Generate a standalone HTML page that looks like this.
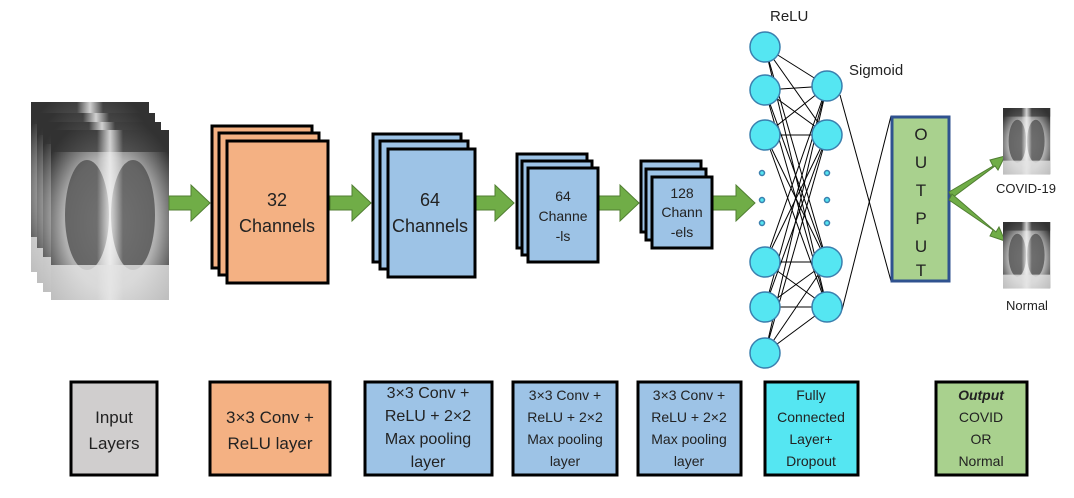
<!DOCTYPE html>
<html><head><style>
body{margin:0;background:#fff;width:1074px;height:493px;overflow:hidden}
text{font-family:"Liberation Sans",sans-serif;fill:#222}
</style></head><body>
<svg width="1074" height="493" xmlns="http://www.w3.org/2000/svg">
<defs>
<radialGradient id="lung" cx="50%" cy="55%" r="65%">
<stop offset="0" stop-color="#e0e0e0"/><stop offset="0.6" stop-color="#b0b0b0"/><stop offset="1" stop-color="#303030"/>
</radialGradient>
<linearGradient id="spine" x1="0" x2="1"><stop offset="0" stop-color="#fff" stop-opacity="0"/><stop offset="0.5" stop-color="#f4f4f4" stop-opacity="0.8"/><stop offset="1" stop-color="#fff" stop-opacity="0"/></linearGradient>
<g id="xr">
<rect x="0" y="0" width="118" height="170" fill="url(#lung)"/>
<rect x="0" y="0" width="118" height="22" fill="#333" opacity="0.7"/>
<ellipse cx="36" cy="85" rx="22" ry="55" fill="#444" opacity="0.7"/>
<ellipse cx="82" cy="85" rx="22" ry="55" fill="#444" opacity="0.7"/>
<rect x="46" y="0" width="26" height="170" fill="url(#spine)"/>
<rect x="0" y="135" width="118" height="35" fill="#e4e4e4" opacity="0.8"/>
</g>
</defs>
<use href="#xr" x="31" y="102"/>
<use href="#xr" x="37" y="113"/>
<use href="#xr" x="43" y="122"/>
<use href="#xr" x="51" y="130"/>
<g fill="#70ad47" stroke="#507e32" stroke-width="1">
<path d="M169,196 h22 v-11 l19,18 l-19,18 v-11 h-22z"/>
<path d="M330,196 h22 v-11 l19,18 l-19,18 v-11 h-22z"/>
<path d="M475,196 h20 v-11 l19,18 l-19,18 v-11 h-20z"/>
<path d="M598,196 h22 v-11 l19,18 l-19,18 v-11 h-22z"/>
<path d="M712,196 h24 v-11 l19,18 l-19,18 v-11 h-24z"/>
</g>
<g fill="#f4b183" stroke="#000" stroke-width="3">
<rect x="212" y="126" width="100" height="142"/>
<rect x="219" y="133" width="100" height="142"/>
<rect x="227" y="141" width="101" height="142"/>
</g>
<text x="277" y="206" font-size="18" text-anchor="middle">32</text>
<text x="277" y="232" font-size="18" text-anchor="middle">Channels</text>
<g fill="#9dc3e6" stroke="#000" stroke-width="3">
<rect x="373" y="134" width="88" height="128"/>
<rect x="380" y="141" width="88" height="128"/>
<rect x="388" y="149" width="87" height="128"/>
</g>
<text x="430" y="206" font-size="18" text-anchor="middle">64</text>
<text x="430" y="232" font-size="18" text-anchor="middle">Channels</text>
<g fill="#9dc3e6" stroke="#000" stroke-width="3">
<rect x="517" y="154" width="70" height="94"/>
<rect x="522" y="161" width="70" height="94"/>
<rect x="528" y="168" width="70" height="94"/>
</g>
<text x="563" y="201" font-size="14" text-anchor="middle">64</text>
<text x="563" y="221" font-size="14" text-anchor="middle">Channe</text>
<text x="563" y="241" font-size="14" text-anchor="middle">-ls</text>
<g fill="#9dc3e6" stroke="#000" stroke-width="3">
<rect x="641" y="161" width="60" height="71"/>
<rect x="646" y="169" width="60" height="71"/>
<rect x="652" y="177" width="60" height="71"/>
</g>
<text x="682" y="198" font-size="14" text-anchor="middle">128</text>
<text x="682" y="217" font-size="14" text-anchor="middle">Chann</text>
<text x="682" y="237" font-size="14" text-anchor="middle">-els</text>
<g stroke="#000" stroke-width="1">
<line x1="765" y1="47" x2="827" y2="86"/><line x1="765" y1="47" x2="827" y2="135"/><line x1="765" y1="47" x2="827" y2="262"/><line x1="765" y1="47" x2="827" y2="307"/>
<line x1="765" y1="90" x2="827" y2="86"/><line x1="765" y1="90" x2="827" y2="135"/><line x1="765" y1="90" x2="827" y2="262"/><line x1="765" y1="90" x2="827" y2="307"/>
<line x1="765" y1="135" x2="827" y2="86"/><line x1="765" y1="135" x2="827" y2="135"/><line x1="765" y1="135" x2="827" y2="262"/><line x1="765" y1="135" x2="827" y2="307"/>
<line x1="765" y1="262" x2="827" y2="86"/><line x1="765" y1="262" x2="827" y2="135"/><line x1="765" y1="262" x2="827" y2="262"/><line x1="765" y1="262" x2="827" y2="307"/>
<line x1="765" y1="307" x2="827" y2="86"/><line x1="765" y1="307" x2="827" y2="135"/><line x1="765" y1="307" x2="827" y2="262"/><line x1="765" y1="307" x2="827" y2="307"/>
<line x1="765" y1="353" x2="827" y2="86"/><line x1="765" y1="353" x2="827" y2="135"/><line x1="765" y1="353" x2="827" y2="262"/><line x1="765" y1="353" x2="827" y2="307"/>
<line x1="840" y1="95" x2="891" y2="281"/><line x1="842" y1="310" x2="891" y2="116"/>
</g>
<g fill="#55e6f2" stroke="#3a7fae" stroke-width="1.5">
<circle cx="765" cy="47" r="15"/><circle cx="765" cy="90" r="15"/><circle cx="765" cy="135" r="15"/>
<circle cx="765" cy="262" r="15"/><circle cx="765" cy="307" r="15"/><circle cx="765" cy="353" r="15"/>
<circle cx="827" cy="86" r="15"/><circle cx="827" cy="135" r="15"/><circle cx="827" cy="262" r="15"/><circle cx="827" cy="307" r="15"/>
<circle cx="762" cy="173" r="2.5"/><circle cx="762" cy="200" r="2.5"/><circle cx="762" cy="223" r="2.5"/>
<circle cx="827" cy="173" r="2.5"/><circle cx="827" cy="200" r="2.5"/><circle cx="827" cy="223" r="2.5"/>
</g>
<text x="770" y="21" font-size="15">ReLU</text>
<text x="849" y="75" font-size="15">Sigmoid</text>
<rect x="892" y="117" width="57" height="164" fill="#a9d18e" stroke="#2f528f" stroke-width="3"/>
<g font-size="17" text-anchor="middle"><text x="921" y="140">O</text><text x="921" y="168">U</text><text x="921" y="196">T</text><text x="921" y="224">P</text><text x="921" y="252">U</text><text x="921" y="276">T</text></g>
<g fill="#70ad47" stroke="#507e32" stroke-width="1">
<path d="M949,192 L993,166 L990,160 L1005,156 L998,170 L995,166 L952,198z"/>
<path d="M949,200 L993,230 L990,236 L1005,241 L999,227 L996,232 L952,194z"/>
</g>
<use href="#xr" transform="translate(1003,108) scale(0.4,0.39)"/>
<use href="#xr" transform="translate(1003,222) scale(0.4,0.39)"/>
<text x="1026" y="193" font-size="13" text-anchor="middle">COVID-19</text>
<text x="1027" y="310" font-size="13" text-anchor="middle">Normal</text>
<g stroke="#000" stroke-width="3">
<rect x="71" y="382" width="86" height="93" fill="#d0cece"/>
<rect x="210" y="382" width="120" height="93" fill="#f4b183"/>
<rect x="365" y="382" width="127" height="93" fill="#9dc3e6"/>
<rect x="513" y="382" width="104" height="93" fill="#9dc3e6"/>
<rect x="638" y="382" width="103" height="93" fill="#9dc3e6"/>
<rect x="765" y="382" width="93" height="93" fill="#55e6f2"/>
<rect x="936" y="382" width="91" height="93" fill="#a9d18e"/>
</g>
<g text-anchor="middle">
<text x="114" y="423" font-size="17">Input</text><text x="114" y="449" font-size="17">Layers</text>
<text x="270" y="423" font-size="17">3×3 Conv +</text><text x="270" y="449" font-size="17">ReLU layer</text>
<text x="428" y="398" font-size="16">3×3 Conv +</text><text x="428" y="421" font-size="16">ReLU + 2×2</text><text x="428" y="444" font-size="16">Max pooling</text><text x="428" y="467" font-size="16">layer</text>
<text x="565" y="400" font-size="14">3×3 Conv +</text><text x="565" y="422" font-size="14">ReLU + 2×2</text><text x="565" y="444" font-size="14">Max pooling</text><text x="565" y="466" font-size="14">layer</text>
<text x="689" y="400" font-size="14">3×3 Conv +</text><text x="689" y="422" font-size="14">ReLU + 2×2</text><text x="689" y="444" font-size="14">Max pooling</text><text x="689" y="466" font-size="14">layer</text>
<text x="811" y="400" font-size="14">Fully</text><text x="811" y="422" font-size="14">Connected</text><text x="811" y="444" font-size="14">Layer+</text><text x="811" y="466" font-size="14">Dropout</text>
<text x="981" y="400" font-size="14" font-weight="bold" font-style="italic">Output</text><text x="981" y="422" font-size="14">COVID</text><text x="981" y="444" font-size="14">OR</text><text x="981" y="466" font-size="14">Normal</text>
</g>
</svg>
</body></html>
